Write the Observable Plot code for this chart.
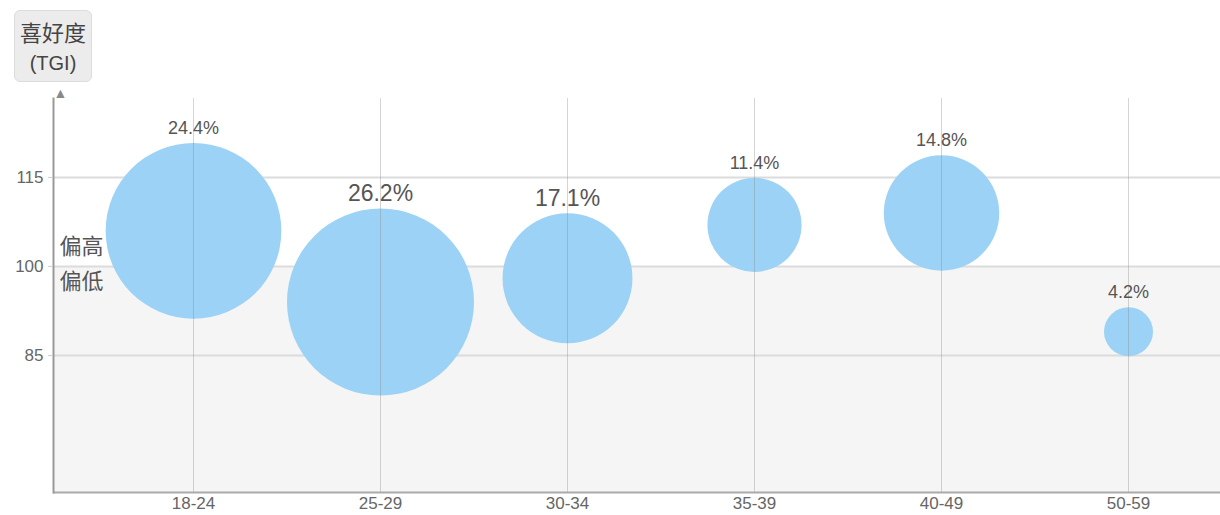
<!DOCTYPE html>
<html>
<head>
<meta charset="utf-8">
<script src="https://cdn.jsdelivr.net/npm/d3@7"></script>
<script src="https://cdn.jsdelivr.net/npm/@observablehq/plot@0.6"></script>
<style>
  html, body { margin: 0; padding: 0; background: #fff; }
  #wrap { position: relative; width: 1220px; height: 515px; font-family: "Noto Sans CJK SC", "Liberation Sans", Arial, sans-serif; }
  #ylabel {
    position: absolute; left: 14px; top: 10px; width: 78px; height: 72px;
    background: #ececec; border: 1px solid #dcdcdc; border-radius: 6px;
    box-sizing: border-box; text-align: center; color: #444;
    font-size: 22px; line-height: 29px; padding-top: 6px;
  }
  #ylabel .en { font-family: "Liberation Sans", Arial, sans-serif; font-size: 20px; }
</style>
</head>
<body>
<div id="wrap">
  <div id="chart"></div>
  <div id="ylabel">喜好度<br><span class="en">(TGI)</span></div>
</div>
<script>
const ages = ["18-24", "25-29", "30-34", "35-39", "40-49", "50-59"];
const shares = [24.4, 26.2, 17.1, 11.4, 14.8, 4.2];
const tgi = [106, 94, 98, 107, 109, 89];
const yTicks = [85, 100, 115];
const baseline = 100;

const data = ages.map((age, i) => ({age, share: shares[i], tgi: tgi[i]}));

const rOptions = {type: "linear", domain: [0, 26.2], range: [11.3, 93.5]};
const rScale = Plot.scale({r: rOptions});
const yDomain = [61.9, 128.3];
const big = new Set(["25-29", "30-34"]);

const labelMarks = data.map(d => Plot.text([d], {
  x: "age", y: "tgi",
  text: d => d.share.toFixed(1) + "%",
  dy: -(rScale.apply(d.share) + 15),
  fontSize: big.has(d.age) ? 23 : 18,
  fill: "#555",
  fontFamily: "Liberation Sans, Arial, sans-serif"
}));

const chart = Plot.plot({
  width: 1220,
  height: 515,
  marginLeft: 53,
  marginRight: 0,
  marginTop: 98,
  marginBottom: 23,
  style: {fontFamily: "Liberation Sans, Arial, sans-serif", background: "transparent", overflow: "visible"},
  x: {type: "point", domain: ages, range: [193, 1128], padding: 0},
  y: {domain: yDomain},
  r: rOptions,
  marks: [
    Plot.rect([{y1: yDomain[0], y2: baseline}], {y1: "y1", y2: "y2", fill: "#f5f5f5"}),
    Plot.ruleY(yTicks, {stroke: "#dcdcdc", strokeWidth: 2}),
    Plot.dot(data, {x: "age", y: "tgi", r: "share", fill: "#9bd2f5", stroke: "none"}),
    Plot.ruleX(ages, {stroke: "#888", strokeOpacity: 0.35}),
    Plot.ruleY([yDomain[0]], {stroke: "#aaa", strokeWidth: 2}),
    Plot.frame({anchor: "left", stroke: "#999", strokeWidth: 2}),
    Plot.text(["▲"], {frameAnchor: "top-left", dy: -5, fontSize: 14, fill: "#888", lineAnchor: "middle"}),
    Plot.axisY({ticks: yTicks, tickSize: 5, tickPadding: 5, fontSize: 17, color: "#666", stroke: "#ccc", label: null}),
    Plot.axisX({tickSize: 0, tickPadding: 4, fontSize: 17, color: "#666", label: null}),
    Plot.text(["偏高"], {y: [baseline], frameAnchor: "left", textAnchor: "start", dx: 6, dy: -19, fontSize: 22, fill: "#555", fontFamily: "Noto Sans CJK SC"}),
    Plot.text(["偏低"], {y: [baseline], frameAnchor: "left", textAnchor: "start", dx: 6, dy: 16, fontSize: 22, fill: "#555", fontFamily: "Noto Sans CJK SC"}),
    ...labelMarks
  ]
});
document.getElementById("chart").appendChild(chart);
</script>
</body>
</html>
